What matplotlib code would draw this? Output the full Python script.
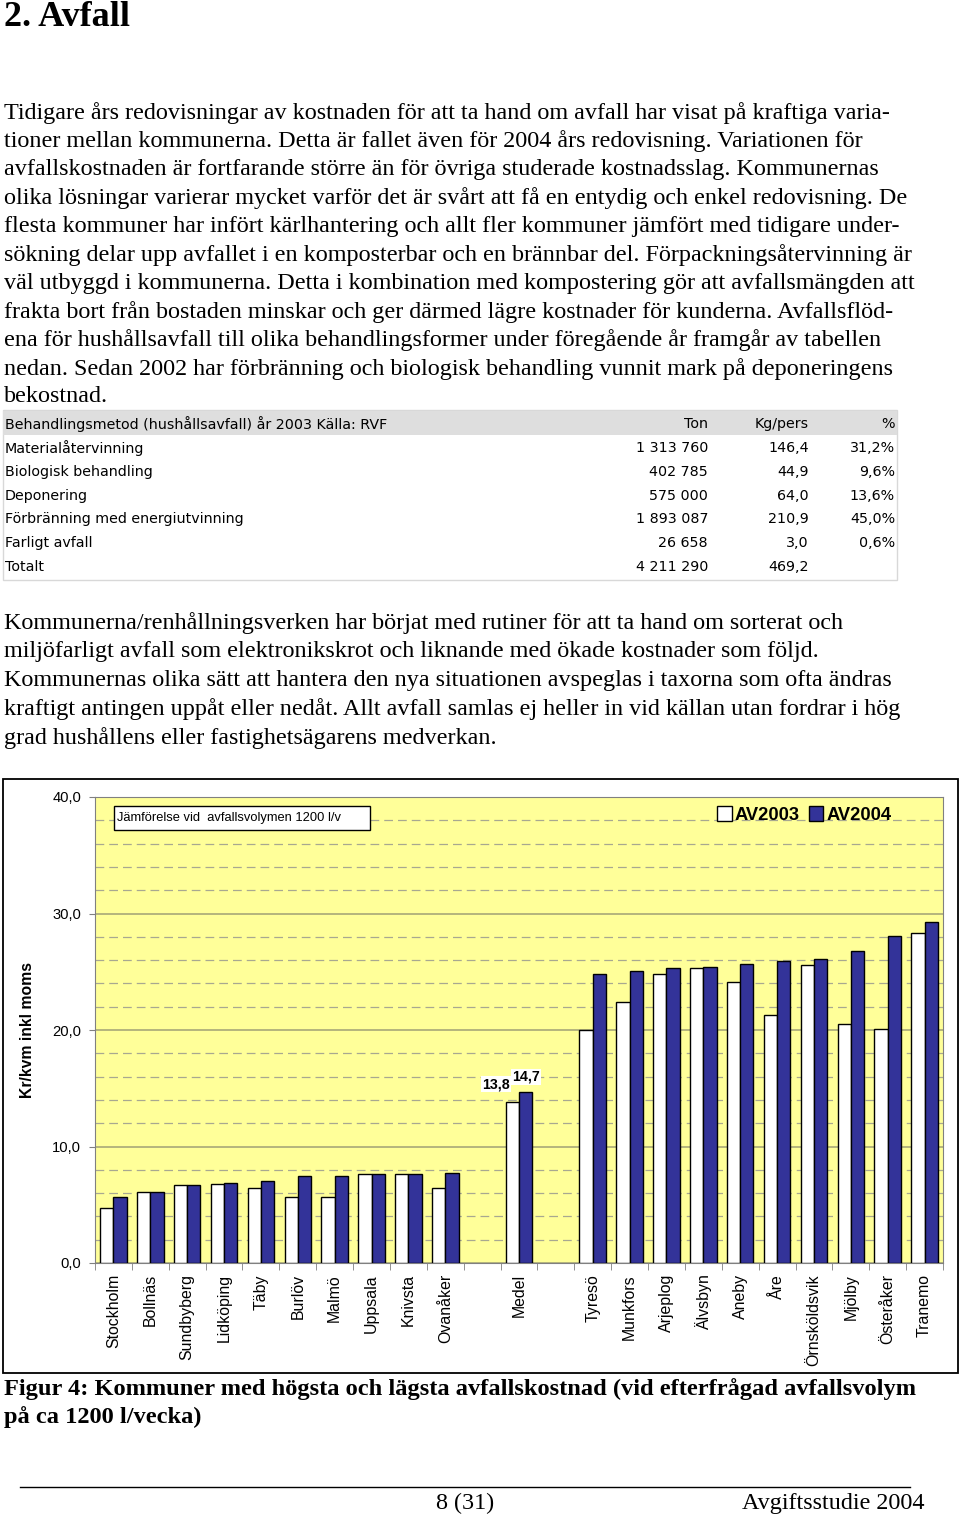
import numpy as np
import matplotlib.pyplot as plt
from matplotlib.patches import Rectangle, Patch
from matplotlib.ticker import FuncFormatter, MultipleLocator

W, H = 960, 1518

# ---- data -------------------------------------------------------------
kommuner = ["Stockholm", "Bollnäs", "Sundbyberg", "Lidköping", "Täby",
            "Burlöv", "Malmö", "Uppsala", "Knivsta", "Ovanåker", "",
            "Medel", "", "Tyresö", "Munkfors", "Arjeplog", "Älvsbyn",
            "Aneby", "Åre", "Örnsköldsvik", "Mjölby", "Österåker", "Tranemo"]
av2003 = [4.7, 6.1, 6.7, 6.8, 6.4, 5.7, 5.7, 7.6, 7.6, 6.4, np.nan,
          13.8, np.nan, 20.0, 22.4, 24.8, 25.3, 24.1, 21.3, 25.6, 20.5,
          20.1, 28.3]
av2004 = [5.7, 6.1, 6.7, 6.9, 7.0, 7.5, 7.5, 7.6, 7.6, 7.7, np.nan,
          14.7, np.nan, 24.8, 25.1, 25.3, 25.4, 25.7, 25.9, 26.1, 26.8,
          28.1, 29.3]

tabell_metod = ["Materialåtervinning", "Biologisk behandling", "Deponering",
                "Förbränning med energiutvinning", "Farligt avfall", "Totalt"]
tabell_ton = ["1 313 760", "402 785", "575 000", "1 893 087", "26 658",
              "4 211 290"]
tabell_kg = ["146,4", "44,9", "64,0", "210,9", "3,0", "469,2"]
tabell_pct = ["31,2%", "9,6%", "13,6%", "45,0%", "0,6%", ""]

stycke1 = [
    "Tidigare års redovisningar av kostnaden för att ta hand om avfall har visat på kraftiga varia-",
    "tioner mellan kommunerna. Detta är fallet även för 2004 års redovisning. Variationen för",
    "avfallskostnaden är fortfarande större än för övriga studerade kostnadsslag. Kommunernas",
    "olika lösningar varierar mycket varför det är svårt att få en entydig och enkel redovisning. De",
    "flesta kommuner har infört kärlhantering och allt fler kommuner jämfört med tidigare under-",
    "sökning delar upp avfallet i en komposterbar och en brännbar del. Förpackningsåtervinning är",
    "väl utbyggd i kommunerna. Detta i kombination med kompostering gör att avfallsmängden att",
    "frakta bort från bostaden minskar och ger därmed lägre kostnader för kunderna. Avfallsflöd-",
    "ena för hushållsavfall till olika behandlingsformer under föregående år framgår av tabellen",
    "nedan. Sedan 2002 har förbränning och biologisk behandling vunnit mark på deponeringens",
    "bekostnad.",
]
stycke2 = [
    "Kommunerna/renhållningsverken har börjat med rutiner för att ta hand om sorterat och",
    "miljöfarligt avfall som elektronikskrot och liknande med ökade kostnader som följd.",
    "Kommunernas olika sätt att hantera den nya situationen avspeglas i taxorna som ofta ändras",
    "kraftigt antingen uppåt eller nedåt. Allt avfall samlas ej heller in vid källan utan fordrar i hög",
    "grad hushållens eller fastighetsägarens medverkan.",
]


def fx(x):
    return x / W


def fy(y):
    return 1 - y / H


def komma(v):
    return ("%.1f" % v).replace(".", ",")


fig = plt.figure(figsize=(9.6, 15.18), dpi=100)
serif = "Liberation Serif"
sans = "Liberation Sans"
body = 17.4

# ---- page text --------------------------------------------------------
fig.text(fx(4), fy(18), "2. Avfall", family=serif, weight="bold",
         size=26, va="center", ha="left")
for i, line in enumerate(stycke1):
    fig.text(fx(4), fy(113 + i * 28.4), line, family=serif, size=body,
             va="center", ha="left")
for i, line in enumerate(stycke2):
    fig.text(fx(4), fy(623 + i * 28.8), line, family=serif, size=body,
             va="center", ha="left")

# ---- table ------------------------------------------------------------
fig.patches.append(Rectangle((fx(3), fy(580)), fx(894), 170 / H,
                             transform=fig.transFigure, fc="white",
                             ec="#d8d8d8", lw=1, zorder=-2))
fig.patches.append(Rectangle((fx(3), fy(435)), fx(894), 24 / H,
                             transform=fig.transFigure, fc="#dedede",
                             ec="none", zorder=-1))
tfont = dict(family="DejaVu Sans", size=10.3, va="center")
fig.text(fx(5), fy(424), "Behandlingsmetod (hushållsavfall) år 2003 Källa: RVF",
         ha="left", **tfont)
fig.text(fx(708), fy(424), "Ton", ha="right", **tfont)
fig.text(fx(809), fy(424), "Kg/pers", ha="right", **tfont)
fig.text(fx(895), fy(424), "%", ha="right", **tfont)
for i in range(len(tabell_metod)):
    yy = fy(448 + i * 23.8)
    fig.text(fx(5), yy, tabell_metod[i], ha="left", **tfont)
    fig.text(fx(708), yy, tabell_ton[i], ha="right", **tfont)
    fig.text(fx(809), yy, tabell_kg[i], ha="right", **tfont)
    fig.text(fx(895), yy, tabell_pct[i], ha="right", **tfont)

# ---- chart ------------------------------------------------------------
fig.patches.append(Rectangle((fx(3), fy(1373)), fx(955), 594 / H,
                             transform=fig.transFigure, fc="white",
                             ec="black", lw=1.3, zorder=-2))

ax = fig.add_axes([fx(95), fy(1263), fx(848), 466 / H])
ax.set_facecolor("#ffff99")

x = np.arange(len(kommuner)) + 0.5
bw = 0.36
ax.bar(x - bw / 2, av2003, bw, color="white", edgecolor="black", lw=1,
       zorder=3, label="AV2003")
ax.bar(x + bw / 2, av2004, bw, color="#333399", edgecolor="black", lw=1,
       zorder=3, label="AV2004")

ax.set_xlim(0, len(kommuner))
ax.set_ylim(0, 40)
ax.yaxis.set_major_locator(MultipleLocator(10))
ax.yaxis.set_minor_locator(MultipleLocator(2))
ax.yaxis.set_major_formatter(FuncFormatter(lambda v, p: komma(v)))
ax.grid(axis="y", which="major", color="#a8a878", lw=1.2, zorder=1)
ax.grid(axis="y", which="minor", color="#a8a890", lw=0.9,
        linestyle=(0, (7, 4)), zorder=1)
ax.tick_params(axis="y", which="minor", length=0)
ax.tick_params(axis="y", which="major", length=4, pad=6,
               labelsize=10.6, color="#808080")
ax.set_xticks(np.arange(len(kommuner) + 1), minor=True)
ax.set_xticks(x)
ax.set_xticklabels(kommuner, rotation=90, va="top", family=sans,
               size=11.4)
ax.tick_params(axis="x", which="major", length=0, pad=8)
ax.tick_params(axis="x", which="minor", length=5, color="#808080")
for lab in ax.get_yticklabels():
    lab.set_family(sans)
for sp in ax.spines.values():
    sp.set_color("#808080")
ax.set_ylabel("Kr/kvm inkl moms", family=sans, weight="bold", size=11.3)
ax.yaxis.set_label_coords(-0.071, 0.5)

# value labels for Medel
im = kommuner.index("Medel")
ax.text(x[im] - bw / 2 - 0.08, av2003[im] + 1.56, komma(av2003[im]),
        ha="right", va="center", weight="bold", size=10.3, family=sans,
        bbox=dict(fc="white", ec="none", pad=0.8), zorder=4)
ax.text(x[im] + bw / 2, av2004[im] + 1.27, komma(av2004[im]),
        ha="center", va="center", weight="bold", size=10.3, family=sans,
        bbox=dict(fc="white", ec="none", pad=0.8), zorder=4)

# comparison label box
ax.add_patch(Rectangle((0.0224, 0.93), 0.302, 0.05, transform=ax.transAxes,
                       fc="white", ec="black", lw=1, zorder=5))
ax.text(0.0255, 0.956, "Jämförelse vid  avfallsvolymen 1200 l/v",
        transform=ax.transAxes, ha="left", va="center", size=9.3,
        family=sans, zorder=6)

handles = [Patch(fc="white", ec="black", lw=1),
           Patch(fc="#333399", ec="black", lw=1)]
ax.legend(handles, ["AV2003", "AV2004"], loc="center left",
          bbox_to_anchor=(0.725, 0.961), ncol=2, frameon=False,
          handlelength=0.8, handleheight=0.8, handletextpad=0.15,
          columnspacing=0.5, borderaxespad=0,
          prop=dict(family=sans, weight="bold", size=13.2))

# ---- caption and footer ----------------------------------------------
fig.text(fx(4), fy(1389),
         "Figur 4: Kommuner med högsta och lägsta avfallskostnad (vid efterfrågad avfallsvolym",
         family=serif, weight="bold", size=17.6, va="center", ha="left")
fig.text(fx(4), fy(1417), "på ca 1200 l/vecka)", family=serif,
         weight="bold", size=17.6, va="center", ha="left")
fig.add_artist(plt.Line2D([fx(20), fx(910)], [fy(1487), fy(1487)],
                          color="black", lw=1))
fig.text(fx(465), fy(1503), "8 (31)", family=serif, size=body,
         va="center", ha="center")
fig.text(fx(925), fy(1503), "Avgiftsstudie 2004", family=serif, size=body,
         va="center", ha="right")

fig.savefig("out.png", dpi=100)
